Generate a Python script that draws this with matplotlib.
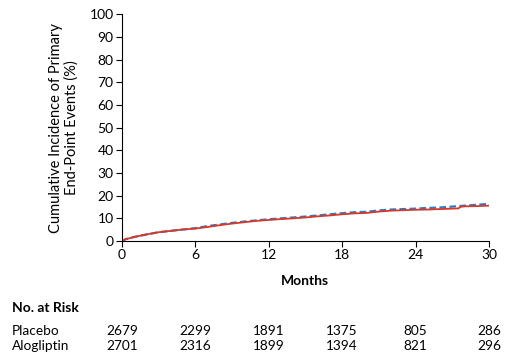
import matplotlib
matplotlib.use("Agg")
import matplotlib.pyplot as plt

plt.rcParams['font.family'] = ['Lato', 'DejaVu Sans']

months_alo = [0, 0.3, 1, 2, 3, 4, 5, 6, 7, 8, 9, 10, 11, 12, 13, 14, 15, 16, 17, 18, 19, 20, 21, 22, 23, 24, 25, 26, 27, 27.5, 27.7, 28, 29, 30]
inc_alo = [0, 0.8, 1.8, 2.9, 3.9, 4.5, 5.1, 5.5, 6.2, 7.0, 7.7, 8.3, 8.9, 9.3, 9.7, 10.0, 10.4, 10.9, 11.3, 11.8, 12.2, 12.4, 13.0, 13.4, 13.6, 13.8, 13.9, 14.1, 14.3, 14.4, 15.1, 15.3, 15.4, 15.6]
months_pla = [0, 0.3, 1, 2, 3, 4, 5, 6, 7, 8, 9, 10, 11, 12, 13, 14, 15, 16, 17, 18, 19, 20, 21, 22, 23, 24, 25, 26, 27, 28, 29, 30]
inc_pla = [0, 0.8, 1.8, 2.9, 3.9, 4.5, 5.1, 5.7, 6.6, 7.3, 8.0, 8.6, 9.1, 9.6, 10.0, 10.4, 10.8, 11.3, 11.8, 12.3, 12.7, 12.9, 13.5, 13.9, 14.1, 14.3, 14.6, 14.8, 15.2, 15.6, 16.0, 16.4]

risk_times = [0, 6, 12, 18, 24, 30]
risk_placebo = [2679, 2299, 1891, 1375, 805, 286]
risk_alogliptin = [2701, 2316, 1899, 1394, 821, 296]

fig = plt.figure(figsize=(5.12, 3.54), dpi=100)
ax = fig.add_axes([0.238, 0.319, 0.717, 0.641])
ax.plot(months_pla, inc_pla, color='#2b7fc1', lw=1.6, ls=(0, (3, 1.5)))
ax.plot(months_alo, inc_alo, color='#d8372a', lw=1.3)
ax.set_xlim(0, 30)
ax.set_ylim(0, 100)
ax.set_xticks(risk_times)
ax.set_yticks(range(0, 101, 10))
for s in ['top', 'right']:
    ax.spines[s].set_visible(False)
for s in ['left', 'bottom']:
    ax.spines[s].set_linewidth(0.8)
ax.tick_params(direction='out', length=4, width=0.8, labelsize=10, pad=2)
ax.set_xlabel('Months', fontsize=10, fontweight='bold', labelpad=10)
ax.set_ylabel('Cumulative Incidence of Primary\nEnd-Point Events (%)', fontsize=10.5, labelpad=8, linespacing=1.1)

fs = 9.8
fig.text(12/512, 1-308/354, 'No. at Risk', fontsize=10, fontweight='bold', va='center', ha='left')
fig.text(12/512, 1-331/354, 'Placebo', fontsize=fs, va='center', ha='left')
fig.text(12/512, 1-346/354, 'Alogliptin', fontsize=fs, va='center', ha='left')
for t, p, a in zip(risk_times, risk_placebo, risk_alogliptin):
    x = ax.transData.transform((t, 0))[0] / fig.bbox.width
    fig.text(x, 1-331/354, str(p), fontsize=fs, va='center', ha='center')
    fig.text(x, 1-346/354, str(a), fontsize=fs, va='center', ha='center')

fig.savefig('out.png', dpi=100)
